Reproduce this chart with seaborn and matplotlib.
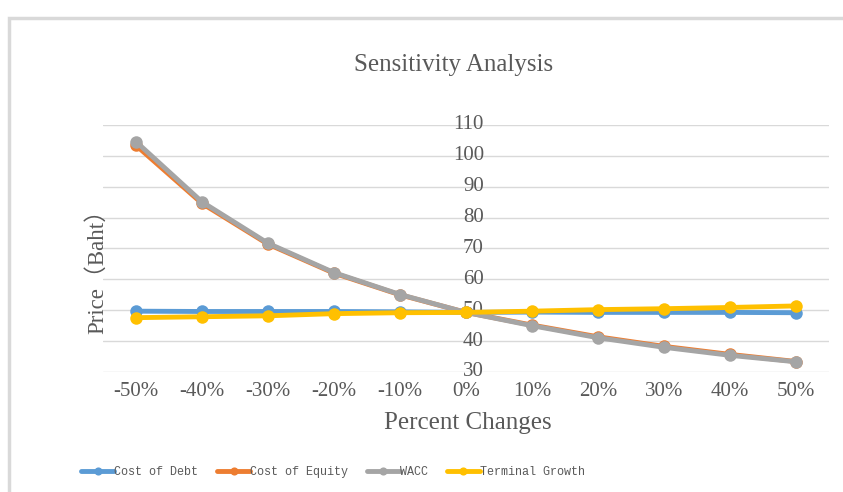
import matplotlib
matplotlib.use("Agg")
import matplotlib.pyplot as plt
import seaborn as sns
import numpy as np
import pandas as pd
from matplotlib.patches import Rectangle

categories = ["-50%", "-40%", "-30%", "-20%", "-10%", "0%", "10%", "20%", "30%", "40%", "50%"]
cost_of_debt = [49.7, 49.6, 49.6, 49.6, 49.5, 49.3, 49.4, 49.3, 49.3, 49.3, 49.2]
cost_of_equity = [103.4, 84.6, 71.4, 62.0, 55.0, 49.3, 45.2, 41.4, 38.3, 35.7, 33.4]
wacc = [104.6, 85.1, 71.7, 62.2, 55.1, 49.3, 45.0, 41.1, 38.0, 35.4, 33.3]
terminal_growth = [47.6, 47.9, 48.2, 48.9, 49.2, 49.3, 49.7, 50.2, 50.5, 50.9, 51.4]
series_names = ["Cost of Debt", "Cost of Equity", "WACC", "Terminal Growth"]
colors = ["#5B9BD5", "#ED7D31", "#A5A5A5", "#FFC000"]
yticks = [30, 40, 50, 60, 70, 80, 90, 100, 110]

sns.set_style("white")
plt.rcParams["font.family"] = ["Liberation Serif", "Noto Sans CJK SC"]

fig = plt.figure(figsize=(8.43, 4.92), dpi=100)
ax = fig.add_axes([103/843, 1-372/492, (829-103)/843, (372-125)/492])

x = np.arange(len(categories))
for name, vals, c in zip(series_names, [cost_of_debt, cost_of_equity, wacc, terminal_growth], colors):
    sns.lineplot(x=x, y=vals, ax=ax, color=c, marker="o", linewidth=3.5,
                 markersize=9, markeredgewidth=0, label=name)

ax.set_xlim(-0.5, len(categories) - 0.5)
ax.set_ylim(yticks[0], yticks[-1])
ax.set_yticks(yticks)
ax.yaxis.grid(True, color="#D9D9D9", linewidth=1)
ax.set_axisbelow(True)
for s in ax.spines.values():
    s.set_visible(False)
ax.set_yticklabels([])
ax.tick_params(axis="y", length=0)
for t in yticks:
    ax.text(5.27, t, str(t), ha="right", va="center", fontsize=15, color="#595959", zorder=1)

ax.set_xticks(x)
ax.set_xticklabels(categories, fontsize=15, color="#595959")
ax.tick_params(axis="x", length=0, pad=7)
ax.set_xlabel("")
ax.set_ylabel("")

ax.get_legend().remove()
handles, labels = ax.get_legend_handles_labels()
leg = fig.legend(handles, labels, loc="center", bbox_to_anchor=(333/843, 1-472/492), ncol=4,
                 frameon=False, handlelength=2.8, columnspacing=1.6, handletextpad=0.0,
                 markerscale=0.65, prop={"family": "Liberation Mono", "size": 8.5})
for t in leg.get_texts():
    t.set_color("#595959")

fig.text(454/843, 1-65/492, "Sensitivity Analysis", ha="center", va="center", fontsize=18, color="#595959")
fig.text(468/843, 1-423/492, "Percent Changes", ha="center", va="center", fontsize=18, color="#595959")
fig.text(97/843, 1-266/492, "Price（Baht）", ha="center", va="center", rotation=90, fontsize=16.5,
         color="#595959")

fig.patches.append(Rectangle((9/843, -0.1), 1.2, 1 - 18/492 + 0.1, transform=fig.transFigure,
                             fill=False, edgecolor="#D9D9D9", linewidth=2.5, zorder=0))

fig.savefig("out.png", dpi=100)
